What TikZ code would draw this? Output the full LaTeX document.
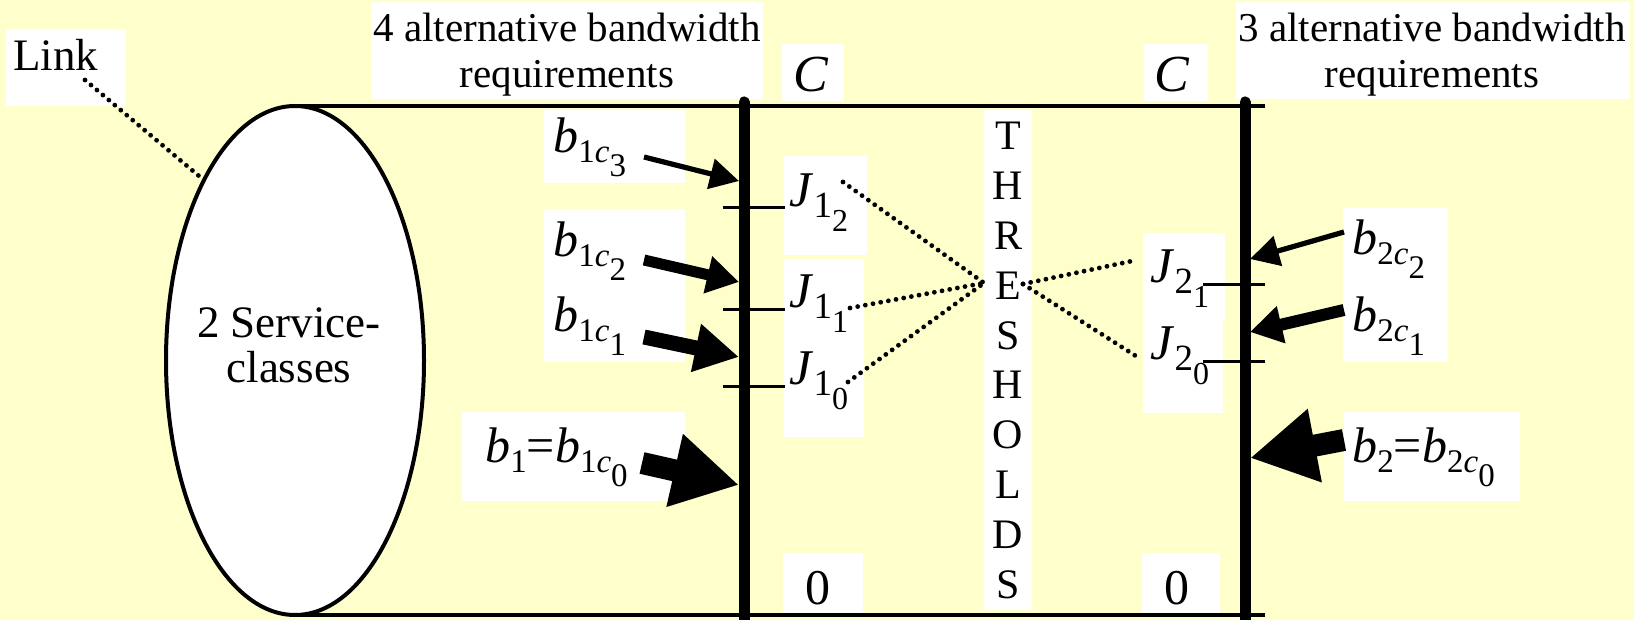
\documentclass[tikz,border=0pt]{standalone}
\usepackage{fontspec}
\setmainfont{Liberation Serif}
\usetikzlibrary{arrows.meta,shapes.geometric}
\definecolor{paper}{HTML}{FFFFCC}

\newcommand{\fs}[1]{\fontsize{#1}{#1}\selectfont}
% b with subscript "#1 c" and second-level subscript #2
\newcommand{\bcl}[2]{\textit{b}\raisebox{-5pt}{\fs{16.5}#1\textit{c}\raisebox{-7pt}{\fs{16.5}#2}}}
% J with subscript #1 and second-level subscript #2
\newcommand{\jcl}[2]{\textit{J}\raisebox{-5.5pt}{\fs{18.5}#1\raisebox{-7pt}{\fs{16}#2}}}
% b with a single subscript
\newcommand{\bone}[1]{\textit{b}\raisebox{-5pt}{\fs{16.5}#1}}

\begin{document}
\begin{tikzpicture}[x=0.5pt,y=-0.5pt,
  wbox/.style={fill=white,draw=none},
  hdr/.style={inner sep=0pt,anchor=base,font=\fs{20.5}},
  plain/.style={inner sep=0pt,anchor=base,font=\fs{22.5}},
  lbl/.style={inner sep=0pt,anchor=base west,font=\fs{25}},
  frame/.style={line width=2pt},
  bar/.style={line width=5.5pt,line cap=round},
  tickmark/.style={line width=1.5pt},
  dotline/.style={line width=2.4pt,line cap=round,dash pattern=on 0pt off 3.9pt},
  arrA/.style={line width=2.6pt,-{Triangle[length=14.5pt,width=15pt]}},
  arrB/.style={line width=5.5pt,-{Triangle[length=16pt,width=18pt]}},
  arrC/.style={line width=7.5pt,-{Triangle[length=22pt,width=23pt]}},
  arrD/.style={line width=11pt,-{Triangle[length=33pt,width=35pt]}},
]
% canvas
\fill[paper] (0,0) rectangle (1634,620);
\useasboundingbox (0,0) rectangle (1634,620);

% link outline: top and bottom edges
\draw[frame] (295,106) -- (1265,106);
\draw[frame] (295,615) -- (1265,615);

% service classes
\node[draw,line width=2pt,fill=white,ellipse,inner sep=0pt,
      minimum width=129pt,minimum height=254.5pt] (svc) at (295,360.5) {};
\node[plain] (svc1) at (289,337) {2 Service-};
\node[plain] (svc2) at (289,383) {classes};

% white label backgrounds
\path[wbox] (6,29) rectangle (126,106);
\path[wbox] (371,2) rectangle (763,99);
\path[wbox] (1236,2) rectangle (1630,99);
\path[wbox] (782,44) rectangle (844,101);
\path[wbox] (1144,44) rectangle (1208,101);
\path[wbox] (544,110) rectangle (685,183);
\path[wbox] (544,209) rectangle (685,362);
\path[wbox] (462,412) rectangle (685,501);
\path[wbox] (1343,208) rectangle (1448,362);
\path[wbox] (1344,412) rectangle (1520,501);
\path[wbox] (784,156) rectangle (867,255);
\path[wbox] (784,259) rectangle (864,340);
\path[wbox] (784,338) rectangle (864,437);
\path[wbox] (1143,233) rectangle (1225,320);
\path[wbox] (1143,320) rectangle (1223,413);
\path[wbox] (984,110) rectangle (1032,610);
\path[wbox] (783,553) rectangle (863,613);
\path[wbox] (1142,553) rectangle (1220,613);

% texts
\node[inner sep=0pt,anchor=base west,font=\fs{22.5}] (link) at (13,71) {Link};
\node[hdr] (hl1) at (567,42) {4 alternative bandwidth};
\node[hdr] (hl2) at (567,88) {requirements};
\node[hdr] (hr1) at (1432,42) {3 alternative bandwidth};
\node[hdr] (hr2) at (1432,88) {requirements};
\node[inner sep=0pt,anchor=base,font=\fs{26}] (capl) at (811,92) {\textit{C}};
\node[inner sep=0pt,anchor=base,font=\fs{26}] (capr) at (1172,92) {\textit{C}};
\node[inner sep=0pt,anchor=base,font=\fs{25}] (zl) at (818,604) {0};
\node[inner sep=0pt,anchor=base,font=\fs{25}] (zr) at (1177,604) {0};

\node[lbl] (b13) at (553,153) {\bcl{1}{3}};
\node[lbl] (b12) at (553,257) {\bcl{1}{2}};
\node[lbl] (b11) at (553,332) {\bcl{1}{1}};
\node[lbl] (b10) at (485,462) {\bone{1}=\bcl{1}{0}};
\node[lbl] (b22) at (1352,255) {\bcl{2}{2}};
\node[lbl] (b21) at (1352,332) {\bcl{2}{1}};
\node[lbl] (b20) at (1352,462) {\bone{2}=\bcl{2}{0}};

\node[lbl] (j12) at (789,207) {\jcl{1}{2}};
\node[lbl] (j11) at (789,308) {\jcl{1}{1}};
\node[lbl] (j10) at (789,385) {\jcl{1}{0}};
\node[lbl] (j21) at (1150,283) {\jcl{2}{1}};
\node[lbl] (j20) at (1150,360) {\jcl{2}{0}};

% vertical THRESHOLDS caption
\foreach \ch [count=\i from 0] in {T,H,R,E,S,H,O,L,D,S}
  \node[inner sep=0pt,anchor=base,font=\fs{21}] (th\i) at (1008,150+49.8*\i) {\ch};

% capacity bars and threshold ticks
\draw[bar] (744,102) -- (744,622);
\draw[bar] (1245,102) -- (1245,622);
\foreach \yy in {208,310,387} \draw[tickmark] (723,\yy) -- (785,\yy);
\foreach \yy in {285,362} \draw[tickmark] (1203,\yy) -- (1265,\yy);

% connector coordinates
\coordinate (linktail) at (85,80);
\coordinate (thl) at (984,283);
\coordinate (thr) at (1023,284);
\coordinate (j12e) at (843,182);
\coordinate (j11e) at (850,308);
\coordinate (j10e) at (848,382);
\coordinate (j21e) at (1137,260);
\coordinate (j20e) at (1139,358);

\draw[dotline] (linktail) -- (svc.117.3);
\draw[dotline] (j12e) -- (thl);
\draw[dotline] (j11e) -- (thl);
\draw[dotline] (j10e) -- (thl);
\draw[dotline] (thr) -- (j21e);
\draw[dotline] (thr) -- (j20e);

% bandwidth arrows
\coordinate (a13s) at (644,157);  \coordinate (a13t) at (739,181);
\coordinate (a12s) at (644,260);  \coordinate (a12t) at (739,282);
\coordinate (a11s) at (644,337);  \coordinate (a11t) at (739,357);
\coordinate (a10s) at (642,463);  \coordinate (a10t) at (739,485);
\coordinate (a22s) at (1344,232); \coordinate (a22t) at (1250,259);
\coordinate (a21s) at (1344,310); \coordinate (a21t) at (1250,332);
\coordinate (a20s) at (1344,440); \coordinate (a20t) at (1250,458);
\draw[arrA] (a13s) -- (a13t);
\draw[arrB] (a12s) -- (a12t);
\draw[arrC] (a11s) -- (a11t);
\draw[arrD] (a10s) -- (a10t);
\draw[arrA] (a22s) -- (a22t);
\draw[arrB,line width=6pt] (a21s) -- (a21t);
\draw[arrD] (a20s) -- (a20t);
\end{tikzpicture}
\end{document}
